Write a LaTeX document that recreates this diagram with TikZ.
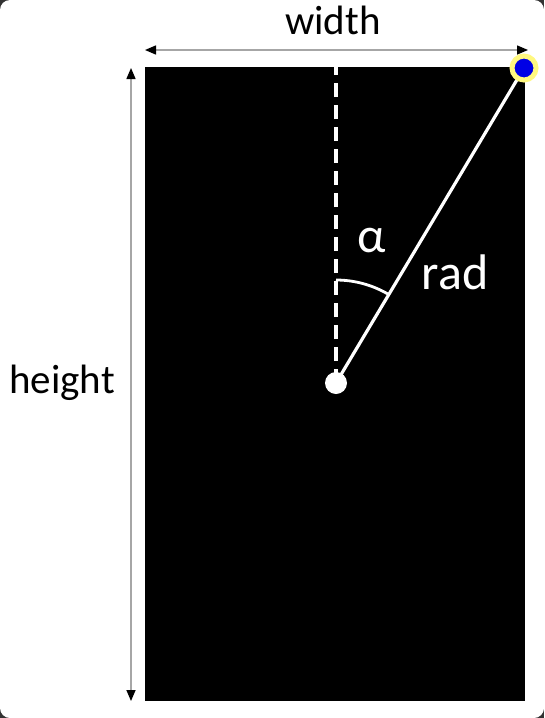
\documentclass[tikz,border=0pt]{standalone}
\usepackage{fontspec}
\setmainfont{Carlito}
\usetikzlibrary{arrows.meta,positioning}

\begin{document}
\begin{tikzpicture}[x=1pt,y=1pt]
\tikzstyle{dim}=[draw=gray!70, line width=1.5pt, {Triangle[length=11pt,width=9pt,color=black]}-{Triangle[length=11pt,width=9pt,color=black]}]
\tikzstyle{lbl}=[font=\fontsize{41}{46}\selectfont, inner sep=0pt]
\tikzstyle{wlbl}=[font=\fontsize{50}{56}\selectfont, inner sep=0pt, text=white]
\tikzstyle{dot}=[circle, fill=white, inner sep=0pt, minimum size=22pt]
\tikzstyle{tipdot}=[circle, fill=blue!90!black, draw=yellow!50, line width=5pt, inner sep=0pt, minimum size=24pt]
\fill[black!80] (0,0) rectangle (544,-718);
\fill[white, rounded corners=10pt] (0,0) rectangle (544,-718);
\fill[black] (145,-67) rectangle (525,-701);
% dimension arrows
\coordinate (wl) at (145,-50); \coordinate (wr) at (528,-50);
\draw[dim] (wl) -- (wr);
\coordinate (ht) at (131,-68); \coordinate (hb) at (131,-701);
\draw[dim] (ht) -- (hb);
\node[lbl] (wlab) at (333,-20) {width};
\node[lbl] (hlab) at (62,-383) {height};
% radius and angle
\node[dot] (ctr) at (336,-383) {};
\coordinate (top) at (336,-67);
\draw[white, line width=3.2pt, dash pattern=on 14pt off 8pt] (ctr.center) -- (top);
\draw[white, line width=3.2pt] (ctr.center) -- (524,-68);
\node[tipdot] (tip) at (524,-68) {};
\draw[white, line width=2.8pt] (ctr.center) ++(90:103) arc[start angle=90, end angle=59.2, radius=103];
\node[wlbl] (alab) at (372,-241) {α};
\node[wlbl] (rlab) at (455,-272) {rad};
\end{tikzpicture}
\end{document}
